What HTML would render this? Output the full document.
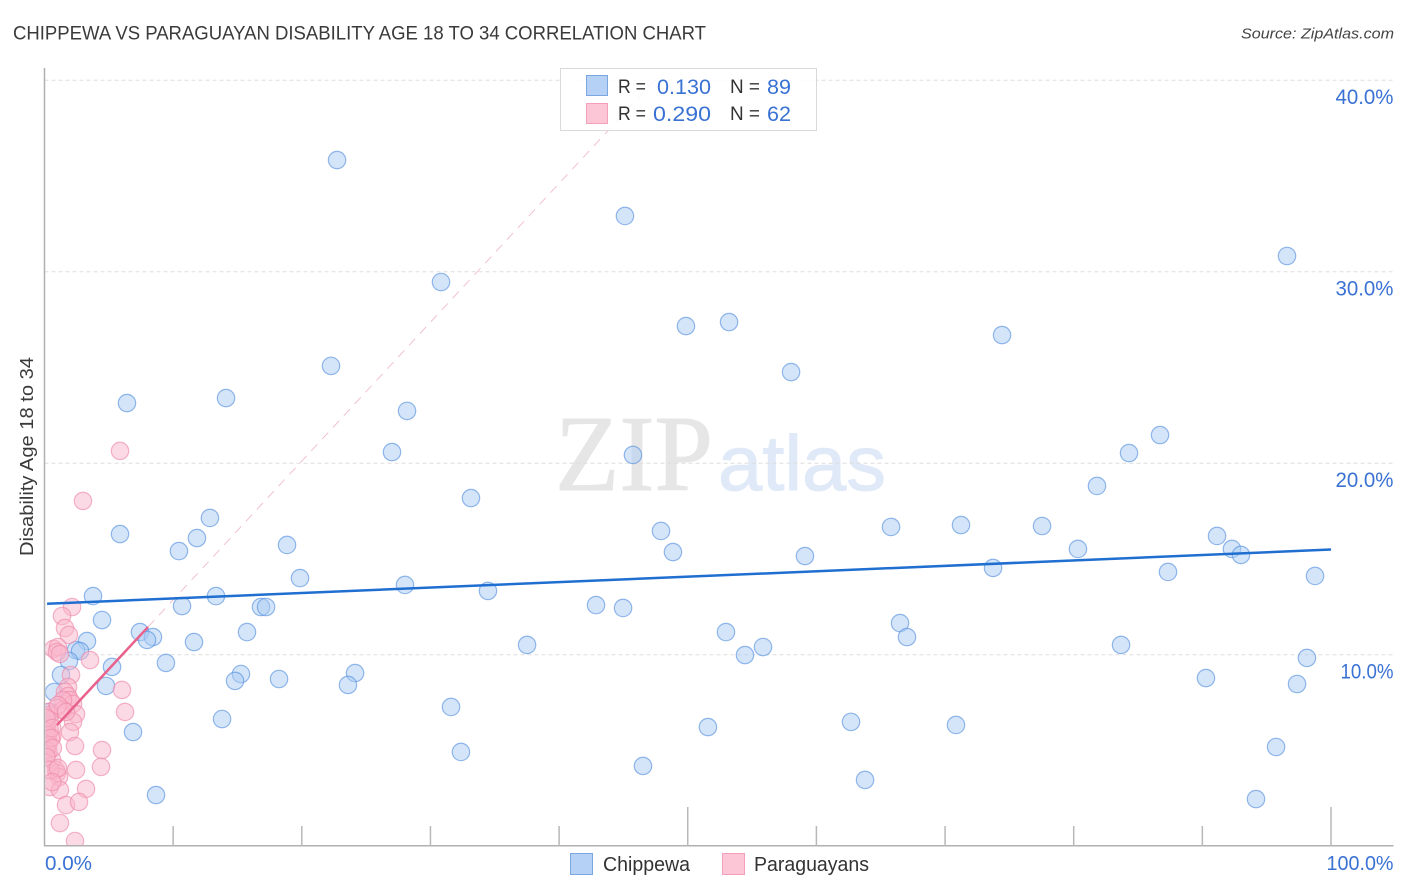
<!DOCTYPE html>
<html>
<head>
<meta charset="utf-8">
<title>Chippewa vs Paraguayan Disability Age 18 to 34 Correlation Chart</title>
<style>
html,body{margin:0;padding:0;background:#fff;}
svg{display:block;}
text{font-family:"Liberation Sans",sans-serif;}
</style>
</head>
<body>
<svg id="chart" xmlns="http://www.w3.org/2000/svg" width="1406" height="892" viewBox="0 0 1406 892">
  <defs>
    <clipPath id="plot-clip"><rect x="45.5" y="68" width="1348" height="777"/></clipPath>
  </defs>
  <rect x="0" y="0" width="1406" height="892" fill="#ffffff"/>
  <text x="13" y="39.5" font-size="19" fill="#3a3a3a" textLength="693" lengthAdjust="spacingAndGlyphs">CHIPPEWA VS PARAGUAYAN DISABILITY AGE 18 TO 34 CORRELATION CHART</text>
  <text x="1394" y="38.5" font-size="15" font-style="italic" fill="#444444" text-anchor="end" textLength="153" lengthAdjust="spacingAndGlyphs">Source: ZipAtlas.com</text>
  <text x="555" y="490" font-size="108" fill="#e6e6e6" stroke="#e6e6e6" stroke-width="1" textLength="158" lengthAdjust="spacingAndGlyphs" style="font-family:'Liberation Serif',serif">ZIP</text>
  <text x="718" y="490" font-size="78" fill="#e0e9f8" stroke="#e0e9f8" stroke-width="1" textLength="168" lengthAdjust="spacingAndGlyphs">atlas</text>
  <g id="grid"></g>
  <g id="axes"></g>
  <g id="blue-points" clip-path="url(#plot-clip)"></g>
  <g id="pink-points" clip-path="url(#plot-clip)"></g>
  <g id="trends"></g>
  <text transform="translate(33,456.5) rotate(-90)" font-size="18" fill="#3a3a3a" text-anchor="middle" textLength="199" lengthAdjust="spacingAndGlyphs">Disability Age 18 to 34</text>

  <g>
    <rect x="560.5" y="68.5" width="256" height="62" fill="#ffffff" fill-opacity="0.85" stroke="#d9d9d9" stroke-width="1"/>
    <rect x="586.5" y="75.5" width="21" height="20" fill="#b5d2f6" stroke="#7ba6e0" stroke-width="1"/>
    <rect x="586.5" y="103.5" width="21" height="20" fill="#fcc6d6" stroke="#f3a0bb" stroke-width="1"/>
    <text x="618" y="93" font-size="19" fill="#333333" textLength="28" lengthAdjust="spacingAndGlyphs">R =</text>
    <text x="657" y="94" font-size="21.5" fill="#3a72d4" textLength="54" lengthAdjust="spacingAndGlyphs">0.130</text>
    <text x="730" y="93" font-size="19" fill="#333333" textLength="30" lengthAdjust="spacingAndGlyphs">N =</text>
    <text x="767" y="94" font-size="21.5" fill="#3a72d4" textLength="24" lengthAdjust="spacingAndGlyphs">89</text>
    <text x="618" y="120" font-size="19" fill="#333333" textLength="28" lengthAdjust="spacingAndGlyphs">R =</text>
    <text x="653" y="121" font-size="21.5" fill="#3a72d4" textLength="58" lengthAdjust="spacingAndGlyphs">0.290</text>
    <text x="730" y="120" font-size="19" fill="#333333" textLength="30" lengthAdjust="spacingAndGlyphs">N =</text>
    <text x="767" y="121" font-size="21.5" fill="#3a72d4" textLength="24" lengthAdjust="spacingAndGlyphs">62</text>
  </g>

  <g>
    <g>
      <rect x="570.5" y="853.5" width="22" height="21" fill="#b5d2f6" stroke="#7ba6e0" stroke-width="1"/>
      <text x="603" y="871" font-size="20" fill="#333333" textLength="87" lengthAdjust="spacingAndGlyphs">Chippewa</text>
    </g>
    <g>
      <rect x="722.5" y="853.5" width="22" height="21" fill="#fcc6d6" stroke="#f3a0bb" stroke-width="1"/>
      <text x="754" y="871" font-size="20" fill="#333333" textLength="115" lengthAdjust="spacingAndGlyphs">Paraguayans</text>
    </g>
  </g>
</svg>
<script>
const xTickValues = [0,10,20,30,40,50,60,70,80,90,100];
const xTickLabels = {0:"0.0%",100:"100.0%"};
const yTickValues = [10,20,30,40];
const yTickLabels = ["10.0%","20.0%","30.0%","40.0%"];

const chippewaX = [22.74,45.12,96.58,30.82,49.86,53.21,74.43,22.27,58.03,6.41,14.11,28.18,86.71,27.01,45.74,84.30,81.81,33.15,12.86,65.80,71.24,77.54,47.92,5.87,11.85,91.14,18.85,10.45,48.85,80.33,92.30,93.00,59.11,73.73,87.33,98.76,19.86,28.02,34.47,3.77,13.33,10.69,42.87,16.83,17.22,44.97,4.47,66.50,52.97,15.74,7.42,8.43,67.04,7.97,3.30,11.62,37.51,83.68,55.85,2.45,2.76,54.45,98.13,1.90,9.44,5.25,1.28,15.27,24.14,14.81,18.23,90.28,23.59,97.36,4.78,0.74,31.60,13.80,62.69,70.85,51.57,6.88,95.73,32.37,46.52,63.78,8.67,94.17,0.40];
const chippewaY = [35.82,32.90,30.81,29.45,27.15,27.36,26.68,25.07,24.75,23.13,23.39,22.72,21.46,20.57,20.42,20.52,18.80,18.17,17.13,16.66,16.76,16.71,16.45,16.29,16.08,16.19,15.72,15.40,15.35,15.51,15.51,15.20,15.14,14.52,14.31,14.10,13.99,13.63,13.32,13.05,13.05,12.53,12.58,12.48,12.48,12.43,11.80,11.64,11.17,11.17,11.17,10.91,10.91,10.76,10.70,10.65,10.50,10.50,10.39,10.23,10.18,9.97,9.82,9.66,9.56,9.35,8.93,8.98,9.03,8.62,8.72,8.77,8.41,8.46,8.36,8.04,7.26,6.63,6.48,6.32,6.21,5.95,5.17,4.91,4.18,3.45,2.66,2.45,7.00];

const paraguayansX = [2.14,1.36,1.59,1.90,0.70,1.05,0.97,1.20,3.54,2.06,1.83,1.59,1.83,1.98,2.22,1.44,0.97,0.30,2.45,2.22,1.98,6.02,6.26,2.37,4.47,4.39,2.45,0.60,0.30,0.60,0.30,0.40,0.15,0.40,1.44,0.89,0.97,1.13,0.40,1.20,3.23,1.67,2.68,1.20,2.37,5.87,2.99,0.15,0.25,0.30,0.15,0.40,0.15,0.60,0.50,0.65,0.15,0.45,1.05,0.60,1.05,1.67];
const paraguayansY = [12.48,12.01,11.38,11.02,10.29,10.39,10.13,10.03,9.71,8.93,8.30,8.04,7.83,7.62,7.42,7.62,7.21,7.00,6.89,6.48,5.95,8.15,7.00,5.22,5.01,4.13,3.97,4.49,4.91,5.69,5.43,6.06,6.32,6.58,7.10,3.97,3.81,3.60,3.08,2.92,2.98,2.14,2.30,1.20,0.26,20.63,18.02,6.06,5.80,5.27,5.01,6.84,6.68,6.16,5.64,5.12,4.65,3.97,4.07,3.34,7.36,7.00];

const chippewaTrendX = [0.2,100];
const chippewaTrendY = [12.65,15.48];
const paraguayansTrendX = [0.97,8.05];
const paraguayansTrendY = [6.32,11.44];
const paraguayansDashX = [8.05,47.45];
const paraguayansDashY = [11.44,40];

const NS = "http://www.w3.org/2000/svg";
function xScale(v){ return 44.5 + v * 12.865; }
function yScale(v){ return 846 - v * 19.15; }
function make(tag, attrs, parent){
  const el = document.createElementNS(NS, tag);
  for (const k in attrs) el.setAttribute(k, attrs[k]);
  parent.appendChild(el);
  return el;
}

const grid = document.getElementById("grid");
const axes = document.getElementById("axes");

yTickValues.forEach(function(v, i){
  const line = make("line", {x1:44.5, x2:1393, y1:yScale(v)+0.2, y2:yScale(v)+0.2, stroke:"#dedede", "stroke-width":1, "stroke-dasharray":"4 3"}, grid);
  
  
  const label = make("text", {x:1393.5, y:yScale(v)+24, "font-size":21, fill:"#3a72d4", "text-anchor":"end", textLength:(v === 10 ? 53 : 58), lengthAdjust:"spacingAndGlyphs"}, axes);
  label.textContent = yTickLabels[i];
  
  
});

const yAxis = make("line", {x1:44.5, x2:44.5, y1:68, y2:846, stroke:"#b0b0b0", "stroke-width":1.5}, axes);


const xAxis = make("line", {x1:44, x2:1393.5, y1:845.7, y2:845.7, stroke:"#b0b0b0", "stroke-width":1.5}, axes);



xTickValues.forEach(function(v){
  if (v > 0) {
    const top = (v % 50 === 0) ? 807 : 826;
    const tick = make("line", {x1:xScale(v), x2:xScale(v), y1:top, y2:846, stroke:"#b8b8b8", "stroke-width":1.5}, axes);
    
    
  }
  if (xTickLabels[v]) {
    const isFirst = v === 0;
    const label = make("text", {x:isFirst ? 45 : 1393.5, y:870, "font-size":20.5, fill:"#3a72d4", "text-anchor":isFirst ? "start" : "end", textLength:isFirst ? 47 : 67, lengthAdjust:"spacingAndGlyphs"}, axes);
    label.textContent = xTickLabels[v];
    
    
  }
});

const bluePoints = document.getElementById("blue-points");
chippewaX.forEach(function(v, i){
  const dot = make("circle", {cx:xScale(v), cy:yScale(chippewaY[i]), r:8.7, fill:"#a9cbf3", "fill-opacity":0.5, stroke:"#5b93e0", "stroke-opacity":0.65, "stroke-width":1.2}, bluePoints);
  
  
});

const pinkPoints = document.getElementById("pink-points");
paraguayansX.forEach(function(v, i){
  const dot = make("circle", {cx:xScale(v), cy:yScale(paraguayansY[i]), r:8.7, fill:"#f9b6cb", "fill-opacity":0.5, stroke:"#ee8cab", "stroke-opacity":0.65, "stroke-width":1.2}, pinkPoints);
  
  
});

const trends = document.getElementById("trends");
const dash = make("line", {x1:xScale(paraguayansDashX[0]), y1:yScale(paraguayansDashY[0]), x2:xScale(paraguayansDashX[1]), y2:yScale(paraguayansDashY[1]), stroke:"#f0bccd", "stroke-width":0.9, "stroke-dasharray":"9 7"}, trends);


const pinkTrend = make("line", {x1:xScale(paraguayansTrendX[0]), y1:yScale(paraguayansTrendY[0]), x2:xScale(paraguayansTrendX[1]), y2:yScale(paraguayansTrendY[1]), stroke:"#e8628c", "stroke-width":2.5}, trends);


const blueTrend = make("line", {x1:xScale(chippewaTrendX[0]), y1:yScale(chippewaTrendY[0]), x2:xScale(chippewaTrendX[1]), y2:yScale(chippewaTrendY[1]), stroke:"#1f6ed0", "stroke-width":2.5}, trends);


</script>
</body>
</html>
